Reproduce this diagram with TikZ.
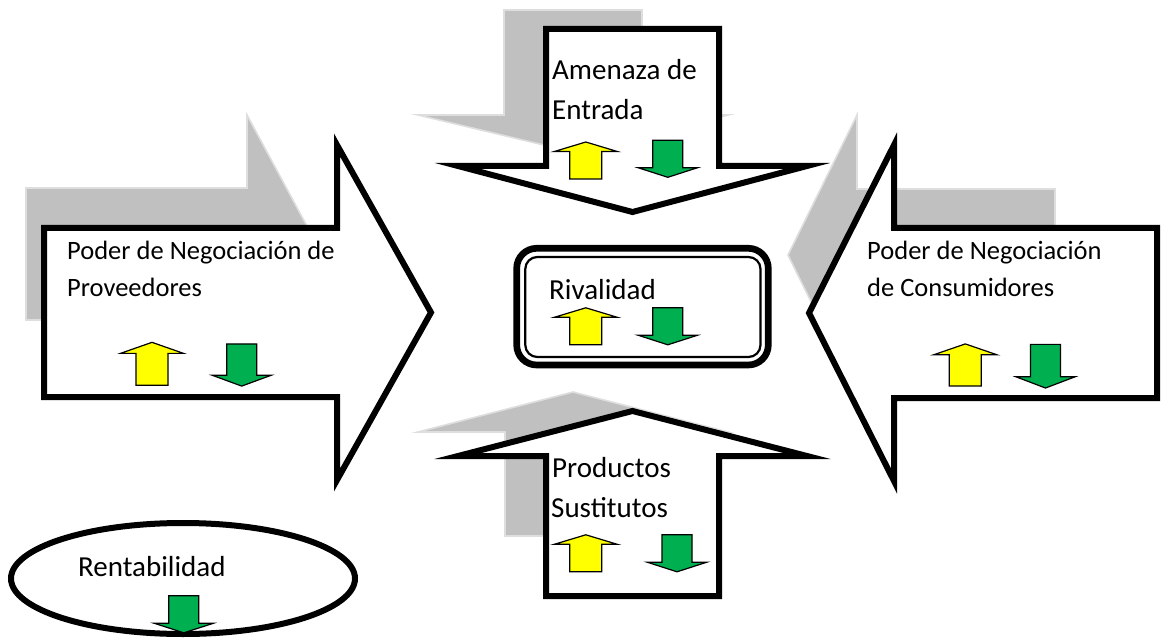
\documentclass[tikz,border=0pt]{standalone}
\usepackage{fontspec}
\setmainfont{Carlito}
\definecolor{shgray}{RGB}{192,192,192}
\definecolor{shedge}{RGB}{222,222,222}
\definecolor{grn}{RGB}{0,176,80}
\definecolor{ylw}{RGB}{255,255,0}
\begin{document}
\begin{tikzpicture}[x=1pt,y=-1pt,
  shadowshape/.style={fill=shgray, draw=shedge, line width=1.6pt, line join=miter},
  bigarrow/.style={fill=white, draw=black, line width=6pt, line join=miter, miter limit=30},
  lbl/.style={anchor=base west, inner sep=0pt, font=\fontsize{29}{35}\selectfont},
  lbls/.style={anchor=base west, inner sep=0pt, font=\fontsize{26.5}{32}\selectfont},
  uparr/.pic={\draw[fill=ylw, draw=black, line width=1.2pt, line join=miter]
     (0,-18.5) -- (31.5,-9) -- (16,-9) -- (16,18.5) -- (-16,18.5) -- (-16,-9) -- (-31.5,-9) -- cycle;},
  downarr/.pic={\draw[fill=grn, draw=black, line width=1.2pt, line join=miter]
     (-15,-18.5) -- (15,-18.5) -- (15,9) -- (29.5,9) -- (0,18.5) -- (-29.5,9) -- (-15,9) -- cycle;}
]
\useasboundingbox (0,0) rectangle (1162,639);
% shadows
\draw[shadowshape] (504,10) -- (642,10) -- (642,115) -- (728,115) -- (573,152) -- (418,115) -- (504,115) -- cycle;
\draw[shadowshape] (26,188) -- (247,188) -- (247,115) -- (322,254) -- (247,393) -- (247,320) -- (26,320) -- cycle;
\draw[shadowshape] (1055,189) -- (857,189) -- (857,115) -- (788,255) -- (857,395) -- (857,321) -- (1055,321) -- cycle;
\draw[shadowshape] (505,536) -- (643,536) -- (643,432) -- (728,432) -- (573,392) -- (418,432) -- (505,432) -- cycle;
% main arrows
\draw[bigarrow] (546,29) -- (719,29) -- (719,166) -- (807,166) -- (632.5,212) -- (458,166) -- (546,166) -- cycle;
\draw[bigarrow] (44,228) -- (337,228) -- (337,145) -- (431,312.5) -- (337,480) -- (337,397) -- (44,397) -- cycle;
\draw[bigarrow] (1157,228) -- (894,228) -- (894,145) -- (809,313) -- (894,481) -- (894,398) -- (1157,398) -- cycle;
\draw[bigarrow] (546,596) -- (719,596) -- (719,456) -- (807,456) -- (632.5,411) -- (458,456) -- (546,456) -- cycle;
% rivalidad box
\draw[fill=white, draw=black, line width=6.7pt, rounded corners=20pt] (516.7,248.3) rectangle (768.3,365);
\draw[draw=black, line width=2.2pt, rounded corners=12pt] (525.3,257) rectangle (760.5,357);
% rentabilidad ellipse
\draw[fill=white, draw=black, line width=6pt] (183,578.5) ellipse [x radius=172, y radius=55.5];
% labels
\node[lbl] (amen1) at (552,80) {Amenaza de};
\node[lbl] (amen2) at (552,120) {Entrada};
\node[lbls] (prov1) at (67,259.3) {Poder de Negociación de};
\node[lbls] (prov2) at (67,296.7) {Proveedores};
\node[lbls] (cons1) at (867,259.3) {Poder de Negociación};
\node[lbls] (cons2) at (867,296.7) {de Consumidores};
\node[lbl] (prod1) at (552,477.3) {Productos};
\node[lbl] (prod2) at (551,517.7) {Sustitutos};
\node[lbl] (rival) at (549,299.3) {Rivalidad};
\node[lbl] (renta) at (78,576) {Rentabilidad};
% small arrows
\pic at (585.8,160.5) {uparr};
\pic at (667.8,158.8) {downarr};
\pic at (585.8,326.3) {uparr};
\pic at (667.8,326.3) {downarr};
\pic at (585.8,553.3) {uparr};
\pic at (677,553.3) {downarr};
\pic[yscale=1.16] at (152,363.8) {uparr};
\pic[yscale=1.14] at (241.7,365) {downarr};
\pic[yscale=1.14] at (965.3,365) {uparr};
\pic[yscale=1.18] at (1045.5,366.2) {downarr};
\pic at (183.8,614.3) {downarr};
\end{tikzpicture}
\end{document}
